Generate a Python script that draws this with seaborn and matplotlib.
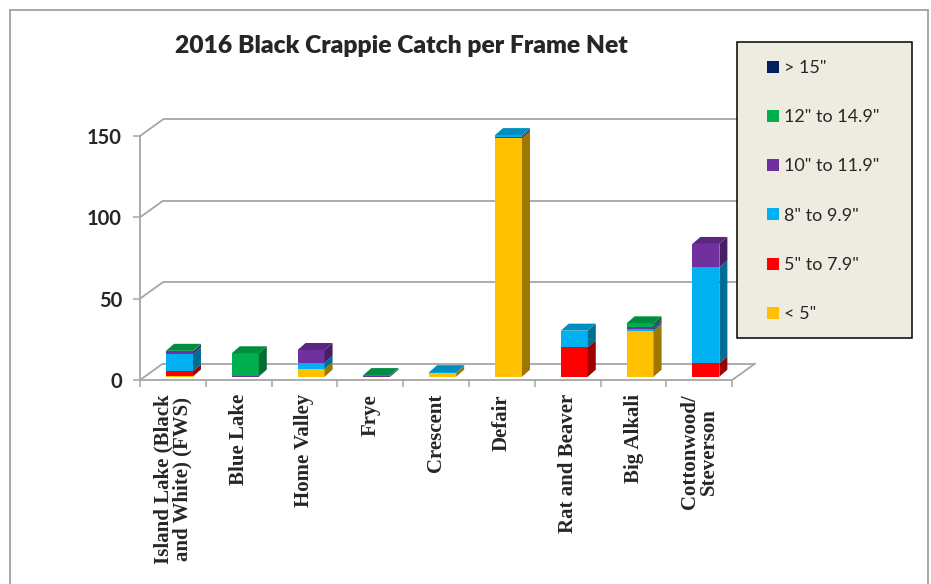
import numpy as np
import pandas as pd
import matplotlib
matplotlib.use("Agg")
import matplotlib.pyplot as plt
import matplotlib.colors as mcolors
from matplotlib.patches import Rectangle, Polygon, Patch
import seaborn as sns

# ---------------- data ----------------
lakes = ["Island Lake (Black\nand White) (FWS)", "Blue Lake", "Home Valley", "Frye",
         "Crescent", "Defair", "Rat and Beaver", "Big Alkali", "Cottonwood/\nSteverson"]
size_classes = ['< 5"', '5" to 7.9"', '8" to 9.9"', '10" to 11.9"', '12" to 14.9"', '> 15"']
under_5      = [0.3, 0.0, 4.7, 0.0, 2.2, 146.5, 0.0, 28.0, 0.0]
in_5_to_7_9  = [3.0, 0.0, 0.0, 0.0, 0.0, 1.0, 18.1, 0.0, 8.2]
in_8_to_9_9  = [10.6, 0.0, 3.9, 0.0, 0.6, 1.0, 10.2, 1.5, 59.0]
in_10_to_11_9 = [1.6, 0.3, 7.8, 0.5, 0.0, 0.0, 0.0, 1.3, 14.4]
in_12_to_14_9 = [0.4, 14.1, 0.0, 0.5, 0.0, 0.0, 0.0, 2.0, 0.0]
over_15      = [0.0, 0.0, 0.0, 0.0, 0.0, 0.0, 0.0, 0.0, 0.0]
series = [under_5, in_5_to_7_9, in_8_to_9_9, in_10_to_11_9, in_12_to_14_9, over_15]
colors = ["#FFC000", "#FF0000", "#00B0F0", "#7030A0", "#00B050", "#002060"]
yticks = [0, 50, 100, 150]
title = "2016 Black Crappie Catch per Frame Net"

# ---------------- geometry (pixels -> data) ----------------
W, H = 931, 584
px_x = 65.8          # px per category
px_y = 1.627         # px per unit
xl, xr = -0.6, 8.4   # front plane
dx, dy = 23 / px_x, 16.5 / px_y      # wall depth
bdx, bdy = 8 / px_x, 7 / px_y        # bar depth
base = 3.3 / px_y                    # bar front baseline
bar_w = 27 / px_x
x_max = xr + dx + 0.02
y_max = 150 + dy + 0.6
left_px, bottom_px = 140, 380

sns.set_theme(style="white")
plt.rcParams["font.family"] = ["Lato", "DejaVu Sans"]

fig = plt.figure(figsize=(W / 100, H / 100), dpi=100)
ax_w = (x_max - xl) * px_x
ax_h = y_max * px_y
ax = fig.add_axes([left_px / W, (H - bottom_px) / H, ax_w / W, ax_h / H])
ax.set_facecolor("none")

grid_c = "#A6A6A6"
# back wall gridlines + left wall diagonals
for v in yticks:
    ax.plot([xl + dx, xr + dx], [v + dy, v + dy], color=grid_c, lw=1.3, zorder=1, solid_capstyle="butt")
    ax.plot([xl, xl + dx], [v, v + dy], color=grid_c, lw=1.3, zorder=1)
ax.plot([xr, xr + dx], [0, dy], color=grid_c, lw=1.3, zorder=1)

# ---------------- stacked bars (front faces) ----------------
vals = np.array(series)
cum = np.cumsum(vals, axis=0)
df = pd.DataFrame({"lake": lakes})
for k in range(len(series) - 1, -1, -1):
    df["v"] = cum[k]
    sns.barplot(data=df, x="lake", y="v", color=colors[k], saturation=1, width=bar_w,
                bottom=base, linewidth=0, ax=ax, zorder=3, order=lakes)


def shade(c, f):
    r, g, b = mcolors.to_rgb(c)
    return (r * f, g * f, b * f)


# side and top faces
for i in range(len(lakes)):
    x1 = i + bar_w / 2
    x0 = i - bar_w / 2
    lo = base
    top_k = None
    for k in range(len(series)):
        v = vals[k][i]
        if v <= 0:
            continue
        hi = lo + v
        ax.add_patch(Polygon([(x1, lo), (x1 + bdx, lo + bdy), (x1 + bdx, hi + bdy), (x1, hi)],
                             closed=True, facecolor=shade(colors[k], 0.62), edgecolor="none", zorder=3))
        lo = hi
        top_k = k
    if top_k is not None:
        ax.add_patch(Polygon([(x0, lo), (x1, lo), (x1 + bdx, lo + bdy), (x0 + bdx, lo + bdy)],
                             closed=True, facecolor=shade(colors[top_k], 0.8), edgecolor="none", zorder=3))

# ---------------- axes ----------------
ax.set_xlim(xl, x_max)
ax.set_ylim(0, y_max)
for s in ["top", "right"]:
    ax.spines[s].set_visible(False)
ax.spines["left"].set_bounds(0, 150)
ax.spines["bottom"].set_bounds(xl, xr)
for s in ["left", "bottom"]:
    ax.spines[s].set_color(grid_c)
    ax.spines[s].set_linewidth(1.3)
    ax.spines[s].set_zorder(2)

ax.set_yticks(yticks)
ax.set_yticklabels([str(t) for t in yticks], fontsize=14.5, fontweight="bold")
ax.tick_params(axis="y", direction="out", length=5, width=1.1, color=grid_c, pad=8, left=True)

ax.set_xticks(np.arange(len(lakes)) - 0.1)
ax.set_xticklabels(lakes, rotation=90, fontsize=15, fontweight="bold",
                   family=["Liberation Serif"], va="top", ha="center", linespacing=0.9)
ax.set_xticks(np.arange(len(lakes) + 1) + xl, minor=True)
ax.tick_params(axis="x", which="major", length=0, pad=10)
ax.tick_params(axis="x", which="minor", direction="out", length=5, width=1.1, color=grid_c, bottom=True)
ax.set_xlabel("")
ax.set_ylabel("")

# ---------------- title ----------------
fig.text(401.5 / W, 1 - 46 / H, title, ha="center", va="center", fontsize=17.7, fontweight="heavy")

# ---------------- legend ----------------
fig.add_artist(Rectangle((737 / W, (H - 338) / H), 175 / W, 296 / H, transform=fig.transFigure,
                         facecolor="#EEECE1", edgecolor="black", lw=1.1, zorder=5))
handles = [Patch(facecolor=colors[k], edgecolor="none") for k in range(len(series) - 1, -1, -1)]
labels = [size_classes[k] for k in range(len(series) - 1, -1, -1)]
leg = fig.legend(handles, labels, loc="upper left", bbox_to_anchor=(767 / W, 1 - 60 / H),
                 frameon=False, fontsize=13, handlelength=0.65, handleheight=0.65,
                 handletextpad=0.3, labelspacing=1.84, borderaxespad=0, borderpad=0)
leg.set_zorder(6)

# ---------------- outer frame ----------------
fig.add_artist(Rectangle((10 / W, -0.05), 918 / W, 1 - 10 / H + 0.05, transform=fig.transFigure,
                         facecolor="none", edgecolor="#A0A0A0", lw=1.3, zorder=0))

fig.savefig("out.png", dpi=100)
